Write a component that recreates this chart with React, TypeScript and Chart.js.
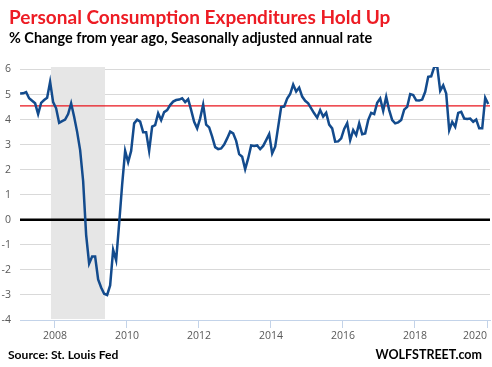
import React, { useEffect, useRef } from "react";
import { Chart, registerables } from "chart.js";

Chart.register(...registerables);

// ---- Data (monthly, % change from year ago) ----
const FIRST_YEAR = 2007; // first observation: Jan 2007
const pce2007 = [5.04, 5.05, 5.1, 4.85, 4.75, 4.65, 4.22, 4.67, 4.78, 4.87, 5.51, 4.7];
const pce2008 = [4.45, 3.87, 3.94, 4.0, 4.22, 4.65, 4.11, 3.51, 2.78, 1.55, -0.6, -1.75];
const pce2009 = [-1.47, -1.47, -2.38, -2.7, -2.95, -3.0, -2.62, -1.2, -1.62, -0.15, 1.4, 2.75];
const pce2010 = [2.3, 2.75, 3.85, 4.0, 3.92, 3.5, 3.5, 2.75, 3.72, 3.78, 4.25, 3.98];
const pce2011 = [4.3, 4.38, 4.58, 4.72, 4.78, 4.8, 4.85, 4.7, 4.82, 4.38, 3.91, 3.65];
const pce2012 = [4.05, 4.6, 3.8, 3.69, 3.32, 2.9, 2.82, 2.85, 3.0, 3.25, 3.52, 3.45];
const pce2013 = [3.15, 2.62, 2.52, 2.02, 2.45, 2.97, 2.95, 2.97, 2.82, 2.95, 3.18, 3.42];
const pce2014 = [2.65, 2.92, 3.71, 4.5, 4.52, 4.84, 5.02, 5.4, 5.12, 5.28, 4.92, 4.75];
const pce2015 = [4.65, 4.45, 4.25, 4.08, 4.38, 4.12, 4.27, 3.8, 3.65, 3.12, 3.13, 3.25];
const pce2016 = [3.63, 3.86, 3.18, 3.58, 3.38, 3.85, 3.42, 3.45, 3.98, 4.27, 4.22, 4.67];
const pce2017 = [4.84, 4.35, 4.91, 4.38, 3.98, 3.85, 3.89, 3.98, 4.4, 4.51, 5.02, 4.98];
const pce2018 = [4.77, 4.76, 4.8, 5.11, 5.71, 5.73, 6.1, 6.13, 5.15, 5.37, 5.04, 3.58];
const pce2019 = [3.91, 3.71, 4.27, 4.31, 4.04, 4.02, 4.04, 3.91, 4.0, 3.65, 3.65, 4.87];
const pce2020 = [4.62];

const pceValues = [
  ...pce2007, ...pce2008, ...pce2009, ...pce2010, ...pce2011, ...pce2012, ...pce2013,
  ...pce2014, ...pce2015, ...pce2016, ...pce2017, ...pce2018, ...pce2019, ...pce2020,
];

const referenceLevel = [4.55];
const zeroLevel = [0];
const recessionStart = 2007.89; // Dec 2007
const recessionEnd = 2009.39; // Jun 2009

const yTicks = [-4, -3, -2, -1, 0, 1, 2, 3, 4, 5, 6];
const xTickYears = [2008, 2010, 2012, 2014, 2016, 2018, 2020];

const X_MIN = 2007.03;
const X_MAX = 2020.083;
const Y_MIN = -4;
const Y_MAX = 6.1;

const BLUE = "#134b8d";
const RED = "#e8141c";
const AXIS_BLUE = "#c3d3e9";
const GRID = "#d9d9d9";
const LABEL = "#595959";

const shadePlugin = {
  id: "recessionShade",
  beforeDatasetsDraw(chart: any) {
    const { ctx, chartArea, scales } = chart;
    const x0 = scales.x.getPixelForValue(recessionStart);
    const x1 = scales.x.getPixelForValue(recessionEnd);
    ctx.save();
    ctx.fillStyle = "#e6e6e6";
    ctx.fillRect(x0, chartArea.top, x1 - x0, chartArea.bottom - chartArea.top - 1);
    ctx.restore();
  },
};

export default function App() {
  const canvasRef = useRef<HTMLCanvasElement | null>(null);

  useEffect(() => {
    document.body.style.margin = "0";
    const canvas = canvasRef.current;
    if (!canvas) return;
    const points = pceValues.map((v, i) => ({ x: FIRST_YEAR + (i + 0.4) / 12, y: v }));
    const tickFont = { family: '"Open Sans", sans-serif', size: 10.5 };
    const chart = new Chart(canvas, {
      type: "line",
      data: {
        datasets: [
          {
            label: "PCE",
            data: points,
            borderColor: BLUE,
            borderWidth: 2.5,
            pointRadius: 0,
            tension: 0,
            order: 0,
          },
          {
            label: "level",
            data: [
              { x: X_MIN, y: referenceLevel[0] },
              { x: X_MAX, y: referenceLevel[0] },
            ],
            borderColor: RED,
            borderWidth: 1.2,
            pointRadius: 0,
            order: 1,
          },
          {
            label: "zero",
            data: [
              { x: X_MIN, y: zeroLevel[0] },
              { x: X_MAX, y: zeroLevel[0] },
            ],
            borderColor: "#000000",
            borderWidth: 2.5,
            pointRadius: 0,
            order: 2,
          },
        ],
      },
      options: {
        animation: false,
        responsive: false,
        devicePixelRatio: 1,
        layout: { padding: { top: 67, right: 2, left: 0, bottom: 0 } },
        plugins: {
          legend: { display: false },
          tooltip: { enabled: false },
          title: { display: false },
        },
        scales: {
          x: {
            type: "linear",
            min: X_MIN,
            max: X_MAX,
            afterBuildTicks: (s: any) => {
              s.ticks = [{ value: X_MIN }, ...xTickYears.map((v) => ({ value: v }))];
            },
            afterFit: (s: any) => {
              s.height = 47;
            },
            grid: {
              drawOnChartArea: false,
              drawTicks: true,
              tickLength: 8,
              tickColor: (ctx: any) => (ctx.index === 0 ? "rgba(0,0,0,0)" : AXIS_BLUE),
              lineWidth: 1,
            },
            border: { display: true, color: AXIS_BLUE, width: 1 },
            ticks: {
              align: "inner",
              autoSkip: false,
              maxRotation: 0,
              padding: 2,
              color: LABEL,
              font: tickFont,
              callback: (v: any, i: number) => (i === 0 ? "" : String(v)),
            },
          },
          y: {
            type: "linear",
            min: Y_MIN,
            max: Y_MAX,
            afterBuildTicks: (s: any) => {
              s.ticks = yTicks.map((v) => ({ value: v }));
            },
            afterFit: (s: any) => {
              s.width = 20;
            },
            grid: { color: GRID, drawTicks: false, lineWidth: 1 },
            border: { display: false },
            ticks: {
              padding: 9,
              color: LABEL,
              font: tickFont,
              callback: (v: any) => String(v),
            },
          },
        },
      } as any,
      plugins: [shadePlugin],
    });
    return () => chart.destroy();
  }, []);

  const base: React.CSSProperties = {
    position: "absolute",
    fontFamily: "Lato, sans-serif",
    fontWeight: 700,
    lineHeight: 1,
    whiteSpace: "nowrap",
    margin: 0,
  };

  return (
    <div style={{ position: "relative", width: 492, height: 367, background: "#fff" }}>
      <canvas ref={canvasRef} width={492} height={367} style={{ display: "block" }} />
      <div style={{ ...base, left: 9, top: 7, fontSize: 19, color: "#ED1C24" }}>
        Personal Consumption Expenditures Hold Up
      </div>
      <div style={{ ...base, left: 9, top: 31.2, fontSize: 14.45, color: "#000" }}>
        % Change from year ago, Seasonally adjusted annual rate
      </div>
      <div style={{ ...base, left: 8, top: 349.3, fontSize: 12.1, color: "#000" }}>
        Source: St. Louis Fed
      </div>
      <div style={{ ...base, right: 10, top: 348.9, fontSize: 12.5, color: "#000" }}>
        WOLFSTREET.com
      </div>
    </div>
  );
}
